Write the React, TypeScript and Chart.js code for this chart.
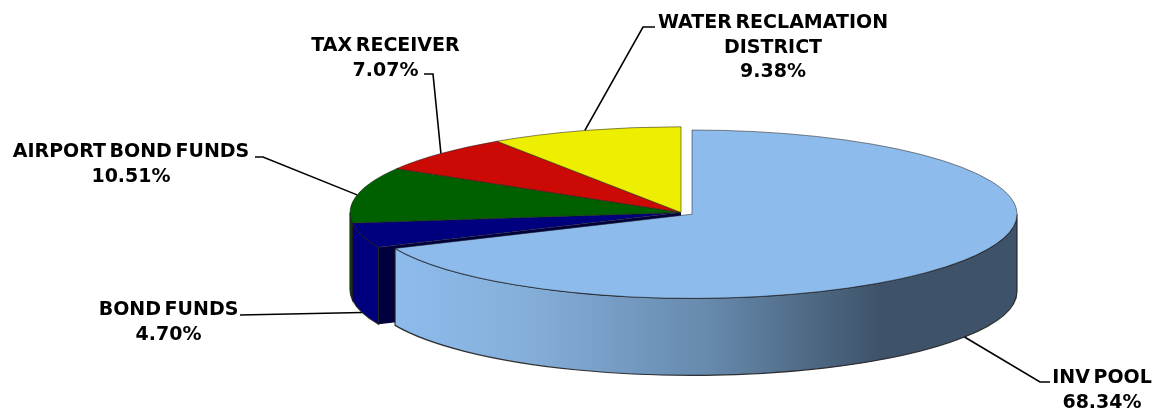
import React, { useEffect, useRef } from "react";
import { Chart, registerables } from "chart.js";

Chart.register(...registerables);

const categories = ["INV POOL", "BOND FUNDS", "AIRPORT BOND FUNDS", "TAX RECEIVER", "WATER RECLAMATION|DISTRICT"];
const shares = [68.34, 4.7, 10.51, 7.07, 9.38];
const topColors = ["#8DBBEC", "#00007F", "#006000", "#CC0A05", "#EEEE00"];
const wallColors = ["#8DBBEC", "#00007F", "#004E00", "#8E0503", "#A6A600"];

// Layout only: label centre x, first baseline y and the leader elbows.
const labelX = [1102, 168.5, 131, 385.5, 773];
const labelY = [383, 315, 157, 51, 28];
const leaderStart = [[1050, 382], [240, 315], [255, 157], [424, 74], [655, 27]];
const leaderElbow = [[1040, 382], [240, 315], [263, 157], [433, 74], [643, 27]];

const SQUASH = 0.259;
const DEPTH = 77;
const FONT = 'bold 19px "DejaVu Sans"';
const EXPLODE_X = 11;
const EXPLODE_Y = 6.5;
const EXPLODE_SHRINK = 6;

const squashedCenter = (chart: any, arc: any) => {
  const ref = chart.getDatasetMeta(0).data[1];
  return { x: arc.x, y: ref.y + (arc.y - ref.y) * SQUASH, mid: (arc.startAngle + arc.endAngle) / 2 };
};

const cake = {
  id: "cake",
  afterDatasetsUpdate(chart: any) {
    // Pull the large slice out of the pie.
    const arc = chart.getDatasetMeta(0).data[0];
    arc.x += EXPLODE_X;
    arc.y += EXPLODE_Y;
    arc.outerRadius -= EXPLODE_SHRINK;
  },
  beforeDatasetsDraw(chart: any) {
    const ctx = chart.ctx;
    const arcs = chart.getDatasetMeta(0).data;
    const drawOrder = [2, 1, 0];
    const outline = (color: any) => {
      ctx.fillStyle = color;
      ctx.strokeStyle = "rgba(30,30,30,0.9)";
      ctx.lineWidth = 1.2;
      ctx.fill();
      ctx.stroke();
    };
    for (const i of drawOrder) {
      const arc = arcs[i];
      const c = squashedCenter(chart, arc);
      const rx = arc.outerRadius;
      const ry = rx * SQUASH;
      if (i === 1) {
        // cut face of the bond-funds slice, seen through the gap
        const ex = c.x + Math.cos(arc.startAngle) * rx;
        const ey = c.y + Math.sin(arc.startAngle) * ry;
        ctx.beginPath();
        ctx.moveTo(c.x, c.y);
        ctx.lineTo(ex, ey);
        ctx.lineTo(ex, ey + DEPTH);
        ctx.lineTo(c.x, c.y + DEPTH);
        ctx.closePath();
        ctx.fillStyle = "#00003F";
        ctx.fill();
      }
      const a0 = Math.max(arc.startAngle, 0);
      const a1 = Math.min(arc.endAngle, Math.PI);
      if (a1 <= a0) continue;
      ctx.beginPath();
      ctx.ellipse(c.x, c.y, rx, ry, 0, a0, a1, false);
      ctx.ellipse(c.x, c.y + DEPTH, rx, ry, 0, a1, a0, true);
      ctx.closePath();
      if (i === 0) {
        const left = c.x + Math.cos(a1) * rx;
        const g = ctx.createLinearGradient(left, 0, c.x + rx, 0);
        g.addColorStop(0, "#8DBBEC");
        g.addColorStop(0.2, "#86B0DB");
        g.addColorStop(0.5, "#678AAE");
        g.addColorStop(0.78, "#3E5369");
        g.addColorStop(1, "#3E5369");
        outline(g);
      } else {
        outline(wallColors[i]);
      }
    }
    const { x, y } = arcs[1];
    ctx.save();
    ctx.translate(x, y);
    ctx.scale(1, SQUASH);
    ctx.translate(-x, -y);
  },
  afterDatasetsDraw(chart: any) {
    const ctx = chart.ctx;
    ctx.restore();
    const arcs = chart.getDatasetMeta(0).data;
    ctx.save();
    ctx.strokeStyle = "#000";
    ctx.lineWidth = 1.6;
    arcs.forEach((arc: any, i: number) => {
      const c = squashedCenter(chart, arc);
      const rx = arc.outerRadius;
      const sin = Math.sin(c.mid);
      const ax = c.x + Math.cos(c.mid) * rx;
      const ay = c.y + sin * rx * SQUASH + (sin > 0 ? DEPTH : 0);
      ctx.beginPath();
      ctx.moveTo(leaderStart[i][0], leaderStart[i][1]);
      ctx.lineTo(leaderElbow[i][0], leaderElbow[i][1]);
      ctx.lineTo(ax, ay);
      ctx.stroke();
    });
    ctx.fillStyle = "#000";
    ctx.font = FONT;
    ctx.textAlign = "center";
    ctx.textBaseline = "alphabetic";
    (ctx as any).wordSpacing = "-3px";
    categories.forEach((name, i) => {
      const lines = [...name.split("|"), `${shares[i].toFixed(2)}%`];
      lines.forEach((line, k) => ctx.fillText(line, labelX[i], labelY[i] + k * 24.5));
    });
    ctx.restore();
  },
};

export default function App() {
  const ref = useRef<HTMLCanvasElement>(null);
  useEffect(() => {
    document.body.style.margin = "0";
    const chart = new Chart(ref.current!, {
      type: "pie",
      data: {
        labels: categories,
        datasets: [
          {
            data: shares,
            backgroundColor: topColors,
            borderColor: "rgba(30,30,30,0.85)",
            borderWidth: 1,
            clip: false,
          } as any,
        ],
      },
      options: {
        responsive: false,
        animation: false,
        events: [],
        radius: 331,
        layout: { padding: { left: 205, top: 14, right: 0, bottom: 0 } },
        plugins: { legend: { display: false }, tooltip: { enabled: false }, title: { display: false } },
      } as any,
      plugins: [cake],
    });
    return () => chart.destroy();
  }, []);
  return <canvas ref={ref} width={1157} height={411} style={{ display: "block" }} />;
}
